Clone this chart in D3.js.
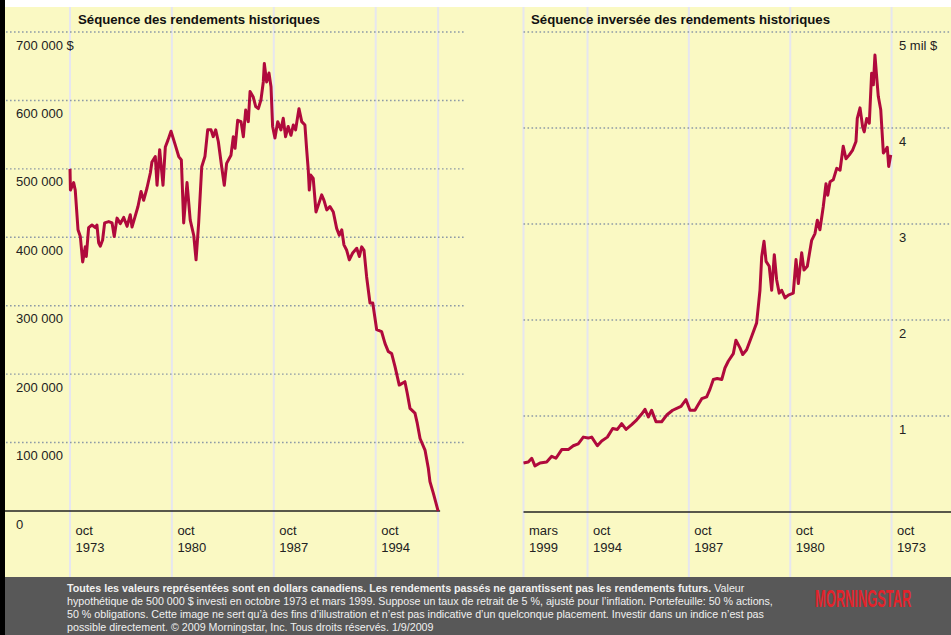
<!DOCTYPE html>
<html>
<head>
<meta charset="utf-8">
<script src="https://cdn.jsdelivr.net/npm/d3@7"></script>
<style>
  body { margin: 0; background: #fff; }
  svg { display: block; font-family: Arial, "Liberation Sans", sans-serif; }
</style>
</head>
<body>
<div id="chart"></div>
<script>
// historical sequence (oct 1973 -> 1999), values in thousands of $
const leftYears = [1973.75,1973.78,1974.00,1974.11,1974.30,1974.46,1974.62,1974.80,1974.87,1975.03,
  1975.26,1975.49,1975.60,1975.72,1975.83,1975.99,1976.13,1976.41,1976.64,1976.79,
  1976.98,1977.21,1977.44,1977.67,1977.89,1978.01,1978.19,1978.42,1978.63,1978.81,
  1979.04,1979.27,1979.38,1979.61,1979.73,1979.91,1980.14,1980.30,1980.48,1980.69,
  1980.98,1981.22,1981.40,1981.56,1981.79,1982.01,1982.25,1982.41,1982.59,1982.80,
  1983.02,1983.21,1983.44,1983.59,1983.76,1983.94,1984.17,1984.35,1984.51,1984.81,
  1984.97,1985.09,1985.27,1985.50,1985.66,1985.82,1986.00,1986.12,1986.34,1986.51,
  1986.69,1986.87,1987.03,1987.10,1987.26,1987.42,1987.56,1987.67,1987.83,1988.02,
  1988.24,1988.40,1988.56,1988.74,1988.93,1989.09,1989.25,1989.48,1989.67,1989.89,
  1990.01,1990.12,1990.19,1990.29,1990.46,1990.65,1990.81,1991.04,1991.20,1991.39,
  1991.61,1991.84,1992.07,1992.25,1992.42,1992.57,1992.76,1992.94,1993.17,1993.45,
  1993.63,1993.79,1993.95,1994.13,1994.36,1994.55,1994.82,1995.16,1995.39,1995.62,
  1995.85,1996.08,1996.37,1996.76,1996.92,1997.11,1997.45,1997.61,1997.80,1998.14,
  1998.37,1998.48,1998.71,1999.04];
const leftValues = [500,469,480,469,411,401,364,386,372,414,
  418,414,418,392,387,396,421,423,421,401,
  428,420,429,416,433,415,428,445,467,454,
  472,494,510,518,476,528,476,532,542,555,
  535,518,513,421,480,425,403,367,421,503,
  518,557,557,547,557,540,503,476,508,520,
  547,530,571,569,547,586,569,613,605,591,
  588,601,627,654,627,640,620,562,545,569,
  557,574,547,562,549,564,557,588,569,564,
  528,498,469,491,486,437,447,462,454,440,
  445,437,413,403,411,389,381,367,377,384,
  372,386,381,342,304,304,265,262,245,233,
  230,211,184,189,172,150,143,128,106,89,
  62,43,26,0];

// reversed sequence (mars 1999 -> oct 1973), values in millions of $
const rightYears = [1999.17,1998.84,1998.60,1998.38,1998.03,1997.57,1997.22,1996.93,1996.53,1996.08,
  1995.73,1995.39,1995.04,1994.70,1994.46,1994.07,1993.77,1993.38,1993.01,1992.69,
  1992.39,1992.09,1991.70,1991.35,1991.01,1990.78,1990.55,1990.32,1990.02,1989.63,
  1989.28,1988.87,1988.59,1988.29,1987.95,1987.67,1987.33,1987.10,1986.86,1986.52,
  1986.29,1986.06,1985.79,1985.48,1985.26,1985.03,1984.68,1984.50,1984.22,1984.03,
  1983.76,1983.41,1983.07,1982.84,1982.72,1982.56,1982.42,1982.20,1982.03,1981.85,
  1981.69,1981.51,1981.34,1981.11,1980.88,1980.54,1980.35,1980.19,1979.96,1979.80,
  1979.57,1979.27,1979.04,1978.88,1978.70,1978.47,1978.28,1978.16,1978.00,1977.78,
  1977.54,1977.31,1977.09,1976.90,1976.67,1976.44,1976.21,1976.12,1975.93,1975.75,
  1975.64,1975.47,1975.29,1975.13,1975.01,1974.90,1974.78,1974.67,1974.50,1974.32,
  1974.16,1974.05,1973.95,1973.81];
const rightValues = [0.51,0.52,0.56,0.48,0.51,0.52,0.58,0.56,0.65,0.65,
  0.69,0.71,0.78,0.77,0.78,0.69,0.74,0.78,0.87,0.86,
  0.92,0.86,0.91,0.96,1.02,1.07,0.99,1.06,0.94,0.94,
  1.01,1.06,1.08,1.10,1.17,1.06,1.06,1.12,1.18,1.20,
  1.28,1.38,1.39,1.38,1.50,1.57,1.65,1.79,1.71,1.64,
  1.69,1.83,1.97,2.31,2.66,2.82,2.61,2.56,2.31,2.68,
  2.42,2.28,2.31,2.23,2.26,2.28,2.63,2.38,2.70,2.52,
  2.56,2.83,2.90,3.04,2.94,3.18,3.42,3.30,3.44,3.46,
  3.58,3.56,3.81,3.68,3.72,3.77,3.86,4.10,4.21,4.01,
  3.96,4.10,4.05,4.57,4.45,4.76,4.53,4.33,4.19,3.74,
  3.77,3.80,3.60,3.72];

const leftTickYears = [1973.75, 1980.75, 1987.75, 1994.75];
const leftTickLabels = [["oct", "1973"], ["oct", "1980"], ["oct", "1987"], ["oct", "1994"]];
const rightTickYears = [1999.17, 1994.75, 1987.75, 1980.75, 1973.75];
const rightTickLabels = [["mars", "1999"], ["oct", "1994"], ["oct", "1987"], ["oct", "1980"], ["oct", "1973"]];

const leftYTicks = [0, 100, 200, 300, 400, 500, 600, 700];
const leftYLabels = ["0", "100 000", "200 000", "300 000", "400 000", "500 000", "600 000", "700 000 $"];
const rightYTicks = [1, 2, 3, 4, 5];
const rightYLabels = ["1", "2", "3", "4", "5 mil $"];

const leftTitle = "Séquence des rendements historiques";
const rightTitle = "Séquence inversée des rendements historiques";

const footerBold = "Toutes les valeurs représentées sont en dollars canadiens. Les rendements passés ne garantissent pas les rendements futurs.";
const footerLines = [
  " Valeur",
  "hypothétique de 500 000 $ investi en octobre 1973 et mars 1999. Suppose un taux de retrait de 5 %, ajusté pour l’inflation. Portefeuille: 50 % actions,",
  "50 % obligations. Cette image ne sert qu’à des fins d’illustration et n’est pas indicative d’un quelconque placement. Investir dans un indice n’est pas",
  "possible directement. © 2009 Morningstar, Inc. Tous droits réservés. 1/9/2009"
];

const width = 951, height = 635;
const yellow = "#faf9c3", lineColor = "#b00a3c", vgrid = "#e6e6ef", dotColor = "#8d9aa6";
const plotTop = 7, plotBottom = 577;

const svg = d3.select("#chart").append("svg")
  .attr("width", width)
  .attr("height", height);

svg.append("rect").attr("width", width).attr("height", height).attr("fill", "#fff");
svg.append("rect").attr("x", 0).attr("y", plotTop).attr("width", width).attr("height", plotBottom - plotTop).attr("fill", yellow);
svg.append("rect").attr("x", 0).attr("y", plotBottom).attr("width", width).attr("height", height - plotBottom).attr("fill", "#585858");

// scales
const xLeft = d3.scaleLinear().domain([1973.75, 1999.17]).range([70, 440]);
const yLeft = d3.scaleLinear().domain([0, 700]).range([511, 32]);
const xRight = d3.scaleLinear().domain([1999.17, 1973.75]).range([523.5, 891.6]);
const yRight = d3.scaleLinear().domain([0, 5]).range([512, 32]);

function drawPanel(g, opt) {
  // vertical grid lines
  g.selectAll(".vg").data(opt.vLines).join("line")
    .attr("x1", d => opt.x(d)).attr("x2", d => opt.x(d))
    .attr("y1", plotTop).attr("y2", plotBottom)
    .attr("stroke", vgrid).attr("stroke-width", 2);

  // dotted horizontal grid
  g.selectAll(".hg").data(opt.yTicks.filter(d => d > 0)).join("line")
    .attr("x1", opt.gx0).attr("x2", opt.gx1)
    .attr("y1", d => opt.y(d)).attr("y2", d => opt.y(d))
    .attr("stroke", dotColor).attr("stroke-width", 1.4)
    .attr("stroke-dasharray", "1.6,2.4");

  // zero baseline
  g.append("line")
    .attr("x1", opt.bx0).attr("x2", opt.bx1)
    .attr("y1", opt.y(0)).attr("y2", opt.y(0))
    .attr("stroke", "#222").attr("stroke-width", 1.5);

  // the series
  const pts = opt.years.map((t, i) => [t, opt.values[i]]);
  g.append("path")
    .datum(pts)
    .attr("fill", "none")
    .attr("stroke", lineColor)
    .attr("stroke-width", 3)
    .attr("stroke-linejoin", "round")
    .attr("d", d3.line().x(d => opt.x(d[0])).y(d => opt.y(d[1])));

  // y labels, under each gridline
  g.selectAll(".yl").data(opt.yTicks).join("text")
    .attr("x", opt.labelX)
    .attr("y", d => opt.y(d) + 17.5)
    .attr("font-size", 13)
    .attr("fill", "#222")
    .text((d, i) => opt.yLabels[i]);

  // x labels, two lines
  const xl = g.selectAll(".xl").data(opt.xTicks).join("text")
    .attr("font-size", 13)
    .attr("fill", "#222");
  xl.append("tspan")
    .attr("x", d => opt.x(d) + 5.5).attr("y", 535)
    .text((d, i) => opt.xLabels[i][0]);
  xl.append("tspan")
    .attr("x", d => opt.x(d) + 5.5).attr("y", 551.5)
    .text((d, i) => opt.xLabels[i][1]);

  g.append("text")
    .attr("x", opt.titleX).attr("y", 24)
    .attr("font-size", 13.2).attr("font-weight", "bold")
    .attr("fill", "#111")
    .text(opt.title);
}

drawPanel(svg.append("g"), {
  x: xLeft, y: yLeft,
  years: leftYears, values: leftValues,
  vLines: leftTickYears.concat([leftYears[leftYears.length - 1]]),
  xTicks: leftTickYears, xLabels: leftTickLabels,
  yTicks: leftYTicks, yLabels: leftYLabels,
  gx0: 6, gx1: 465, bx0: 5, bx1: xLeft(leftYears[leftYears.length - 1]) + 2,
  labelX: 16, titleX: 78, title: leftTitle
});

drawPanel(svg.append("g"), {
  x: xRight, y: yRight,
  years: rightYears, values: rightValues,
  vLines: rightTickYears,
  xTicks: rightTickYears, xLabels: rightTickLabels,
  yTicks: rightYTicks, yLabels: rightYLabels,
  gx0: xRight(rightTickYears[0]), gx1: width, bx0: xRight(rightTickYears[0]), bx1: width,
  labelX: 899, titleX: 531, title: rightTitle
});

// black edge on the left
svg.append("rect").attr("x", 0).attr("y", 0).attr("width", 5).attr("height", height).attr("fill", "#000");

// footer note
const note = svg.append("g").attr("font-size", 10.7).attr("fill", "#f0f0f0");
const first = note.append("text").attr("x", 67).attr("y", 592);
first.append("tspan").attr("font-weight", "bold").text(footerBold);
first.append("tspan").text(footerLines[0]);
footerLines.slice(1).forEach((s, i) => {
  note.append("text").attr("x", 67).attr("y", 592 + 13 * (i + 1)).text(s);
});

// logo
svg.append("text")
  .attr("transform", "translate(815,607) scale(0.56,1)")
  .attr("font-size", 23).attr("font-weight", "bold")
  .attr("fill", "#e2232b")
  .text("MORNINGSTAR");
</script>
</body>
</html>
